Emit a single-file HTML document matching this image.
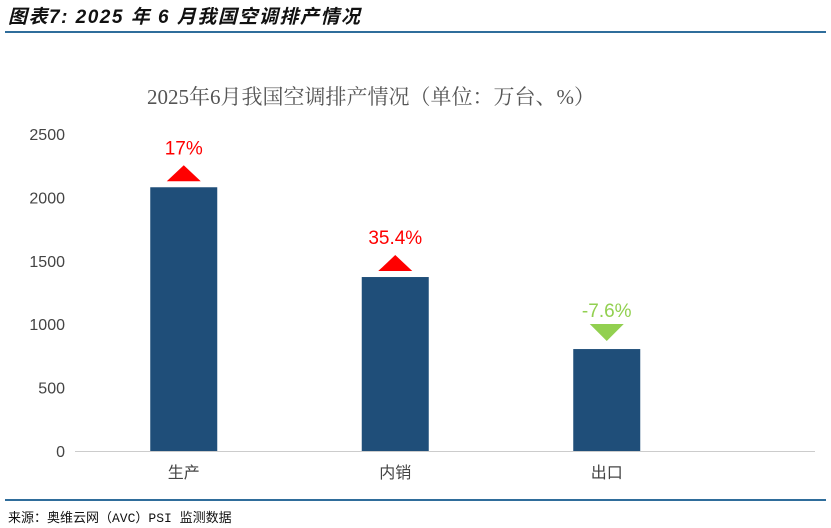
<!DOCTYPE html>
<html><head><meta charset="utf-8"><style>
body{margin:0;width:831px;height:528px;background:#fff;overflow:hidden;font-family:"Liberation Sans","Noto Sans CJK SC",sans-serif}
#hdr{position:absolute;left:8px;top:2px;font-size:19px;font-weight:bold;font-style:italic;color:#111;letter-spacing:1.5px}
.line{position:absolute;left:5px;width:821px;height:2px;background:#2f6d9b}
#src{position:absolute;left:8px;top:507px;font-size:13px;color:#111;font-family:"Liberation Mono","Noto Sans CJK SC",monospace}
</style></head><body>
<div id="hdr">图表7: 2025 年 6 月我国空调排产情况</div>
<div class="line" style="top:31px"></div>
<svg id="chart" width="831" height="528" style="position:absolute;left:0;top:0"></svg>
<div class="line" style="top:499px"></div>
<div id="src">来源：奥维云网（AVC）PSI 监测数据</div>
<script>
const categories=["生产","内销","出口"];
const values=[2080,1372,804];
const changes=["17%","35.4%","-7.6%"];
const changeUp=[true,true,false];
const yTicks=[0,500,1000,1500,2000,2500];
const NS="http://www.w3.org/2000/svg";
const svg=document.getElementById('chart');
const y0=451,yTop=134,yMax=2500,xL=78,band=211.5;
const y=v=>y0-(v/yMax)*(y0-yTop);
const xc=i=>xL+band*(i+0.5);
function mk(t,a){const e=document.createElementNS(NS,t);for(const k in a)e.setAttribute(k,a[k]);svg.appendChild(e);return e;}
let t=mk('text',{x:371,y:104,'text-anchor':'middle','font-size':21,fill:'#555','font-family':'"Liberation Serif","Noto Serif CJK SC",serif'});


t.textContent='2025年6月我国空调排产情况（单位：万台、%）';
yTicks.forEach(v=>{const e=mk('text',{x:65,y:y(v)+6,'text-anchor':'end','font-size':16,fill:'#444'});


e.textContent=v;});
const ax=mk('line',{x1:75,x2:815,y1:y0+0.5,y2:y0+0.5,stroke:'#ccc'});


categories.forEach((c,i)=>{
 const cx=xc(i),w=67;
 const r=mk('rect',{x:cx-w/2,y:y(values[i]),width:w,height:y0-y(values[i]),fill:'#1f4e79'});
 
 
 const l=mk('text',{x:cx,y:478,'text-anchor':'middle','font-size':16,fill:'#444'});
 
 
 l.textContent=c;
 const top=y(values[i]);
 const col=changeUp[i]?'#ff0000':'#92d050';
 let pts,ty;
 if(changeUp[i]){pts=`${cx-17},${top-6} ${cx+17},${top-6} ${cx},${top-22}`;ty=top-33;}
 else{pts=`${cx-17},${top-25} ${cx+17},${top-25} ${cx},${top-8}`;ty=top-32;}
 const p=mk('polygon',{points:pts,fill:col});
 
 
 const ct=mk('text',{x:cx,y:ty,'text-anchor':'middle','font-size':19,fill:col});
 
 
 ct.textContent=changes[i];
});
</script>
</body></html>
